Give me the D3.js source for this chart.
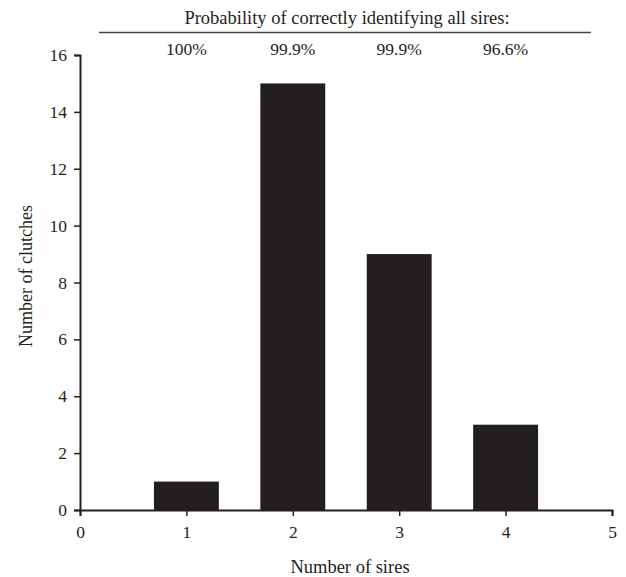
<!DOCTYPE html>
<html>
<head>
<meta charset="utf-8">
<script src="https://cdn.jsdelivr.net/npm/d3@7"></script>
<style>
  body { margin: 0; background: #fff; }
  svg text { font-family: "Liberation Serif", "DejaVu Serif", serif; fill: #231f20; }
</style>
</head>
<body>
<script>
const width = 626;
const height = 577;

// values
const sires = [1, 2, 3, 4];
const clutches = [1, 15, 9, 3];
const probLabels = ["100%", "99.9%", "99.9%", "96.6%"];
const xTicks = [0, 1, 2, 3, 4, 5];
const yTicks = [0, 2, 4, 6, 8, 10, 12, 14, 16];

const margin = {top: 55, right: 14, bottom: 67, left: 80};

const svg = d3.select("body").append("svg")
    .attr("width", width)
    .attr("height", height);

const x = d3.scaleLinear().domain([0, 5]).range([margin.left, width - margin.right]);
const y = d3.scaleLinear().domain([0, 16]).range([height - margin.bottom, margin.top]);
const barW = x(0.61) - x(0);

// bars
svg.selectAll("rect.bar")
    .data(d3.zip(sires, clutches))
    .join("rect")
    .attr("class", "bar")
    .attr("x", d => x(d[0]) - barW / 2)
    .attr("y", d => y(d[1]))
    .attr("width", barW)
    .attr("height", d => y(0) - y(d[1]))
    .style("fill", "#231f20");

// x axis
const xAxis = svg.append("g")
    .attr("transform", `translate(0,${y(0)})`)
    .call(d3.axisBottom(x).tickValues(xTicks).tickFormat(d3.format("d")).tickSizeOuter(0).tickSize(6).tickPadding(10));

// y axis
const yAxis = svg.append("g")
    .attr("transform", `translate(${x(0)},0)`)
    .call(d3.axisLeft(y).tickValues(yTicks).tickSizeOuter(0).tickSize(6).tickPadding(7));

[xAxis, yAxis].forEach(g => {
    g.select(".domain").style("stroke", "#231f20").style("stroke-width", 2);
    g.selectAll(".tick line").style("stroke", "#231f20").style("stroke-width", 1.5);
    g.selectAll(".tick text").style("font-size", "17.5px").style("font-family", "Liberation Serif, serif").style("fill", "#231f20");
});

// axis titles
svg.append("text")
    .attr("x", 350)
    .attr("y", 573)
    .attr("text-anchor", "middle")
    .style("font-size", "18.5px")
    .text("Number of sires");

svg.append("text")
    .attr("transform", `translate(32,276) rotate(-90)`)
    .attr("text-anchor", "middle")
    .style("font-size", "18px")
    .text("Number of clutches");

// probability header
svg.append("text")
    .attr("x", 347)
    .attr("y", 24)
    .attr("text-anchor", "middle")
    .style("font-size", "18.5px")
    .text("Probability of correctly identifying all sires:");

svg.append("line")
    .attr("x1", 99).attr("x2", 591)
    .attr("y1", 32.5).attr("y2", 32.5)
    .style("stroke", "#444")
    .style("stroke-width", 1.5);

svg.selectAll("text.prob")
    .data(d3.zip(sires, probLabels))
    .join("text")
    .attr("class", "prob")
    .attr("x", d => x(d[0]))
    .attr("y", 55)
    .attr("text-anchor", "middle")
    .style("font-size", "17.5px")
    .text(d => d[1]);
</script>
</body>
</html>
